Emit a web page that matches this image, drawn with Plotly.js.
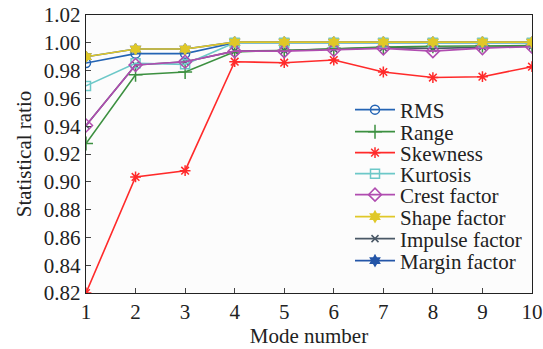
<!DOCTYPE html>
<html><head><meta charset="utf-8">
<script src="https://cdn.plot.ly/plotly-3.0.1.min.js"></script>
<style>html,body{margin:0;padding:0;background:#fff}#chart{width:543px;height:349px}</style>
</head><body><div id="chart"></div>
<script>
const modes = [1,2,3,4,5,6,7,8,9,10];
const rms      = [0.9855,0.9922,0.9922,1.0000,1.0000,1.0000,1.0000,1.0000,1.0000,1.0000];
const rangeV   = [0.9275,0.9770,0.9790,0.9935,0.9945,0.9960,0.9970,0.9975,0.9980,0.9980];
const skewness = [0.8200,0.9035,0.9080,0.9864,0.9857,0.9876,0.9790,0.9750,0.9756,0.9828];
const kurtosis = [0.9690,0.9853,0.9845,1.0000,1.0000,1.0000,1.0000,1.0000,1.0000,1.0000];
const crest    = [0.9405,0.9840,0.9864,0.9940,0.9940,0.9948,0.9960,0.9940,0.9962,0.9972];
const shape    = [0.9900,0.9955,0.9955,1.0005,1.0005,1.0005,1.0005,1.0005,1.0005,1.0005];
const impulse  = [0.9405,0.9840,0.9864,0.9940,0.9945,0.9955,0.9965,0.9960,0.9970,0.9975];
const margin   = [0.9900,0.9955,0.9955,1.0005,1.0005,1.0005,1.0005,1.0005,1.0005,1.0005];
const names = ['RMS','Range','Skewness','Kurtosis','Crest factor','Shape factor','Impulse factor','Margin factor'];

const FAM = 'Liberation Serif';
function F(size){ return {family:FAM, size:size, color:'#222'}; }

function tr(y, name, color, symbol, size, leg){
  return {x: modes, y: y, name: name, type:'scatter', mode:'lines+markers',
    line:{color:color, width:1.6},
    marker:{symbol:symbol, size:size, color:color, line:{color:color, width:1.5}},
    legend: leg};
}
const data = [
  tr(impulse, names[6], '#4a5866', 'x-thin-open', 7, 'legend7'),
  tr(margin,  names[7], '#2456a8', 'hexagram', 8, 'legend8'),
  tr(rms,     names[0], '#2464b4', 'circle-open', 9, 'legend'),
  tr(rangeV,  names[1], '#3c9040', 'cross-thin-open', 10, 'legend2'),
  tr(skewness,names[2], '#ff2a2a', 'asterisk-open', 9, 'legend3'),
  tr(kurtosis,names[3], '#6cc8c8', 'square-open', 9, 'legend4'),
  tr(crest,   names[4], '#b04cb0', 'diamond-open', 10, 'legend5'),
  tr(shape,   names[5], '#e0c828', 'hexagram', 8, 'legend6')
];
const PT = 15, PB = 293, PL = 86, PR = 532;
const entryPx = [110, 132, 153, 174, 195, 217, 239, 261];
const layout = {
  width:543, height:349,
  margin:{l:PL, r:543-PR, t:PT, b:349-PB},
  paper_bgcolor:'#fff', plot_bgcolor:'#fcfcfc',
  font: F(20),
  showlegend:true,
  xaxis:{range:[1,10], tickvals:modes, ticktext:modes.map(String), ticks:'inside', ticklen:5,
    showline:true, linecolor:'#222', linewidth:1.2, mirror:true, showgrid:false, zeroline:false,
    tickfont:F(21),
    title:{text:'Mode number', font:F(21), standoff:4}},
  yaxis:{range:[0.82,1.02], dtick:0.02, tickformat:'.2f', ticks:'inside', ticklen:5,
    showline:true, linecolor:'#222', linewidth:1.2, mirror:true, showgrid:false, zeroline:false,
    tickfont:F(21),
    title:{text:'Statistical ratio', font:F(21), standoff:6}}
};
const legKeys = ['legend','legend2','legend3','legend4','legend5','legend6','legend7','legend8'];
legKeys.forEach((k,i)=>{
  layout[k] = {x:(350-PL)/(PR-PL), y:(PB-entryPx[i])/(PB-PT), xanchor:'left', yanchor:'middle',
    bgcolor:'rgba(0,0,0,0)', borderwidth:0, font:F(21), itemwidth:40};
});
Plotly.newPlot('chart', data, layout, {displayModeBar:false, staticPlot:true});
</script></body></html>
